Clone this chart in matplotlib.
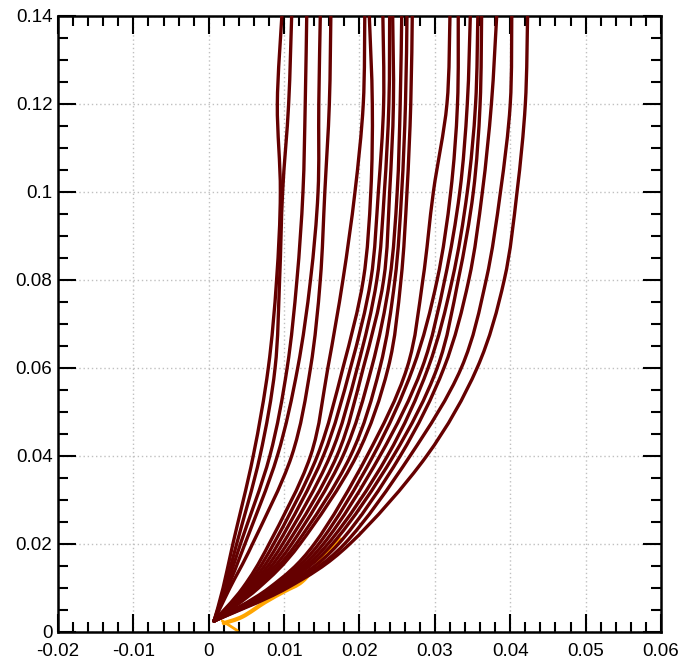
import matplotlib
matplotlib.use("Agg")
import matplotlib.pyplot as plt
from matplotlib.path import Path
from matplotlib.patches import PathPatch
from matplotlib.ticker import MultipleLocator, FuncFormatter

plt.rcParams['font.family'] = ['Liberation Sans', 'DejaVu Sans']

# y levels at which curve x-positions were read
y_levels = [0.0025, 0.01, 0.02, 0.04, 0.06, 0.08, 0.10, 0.12, 0.14]

# left group (steep curves)
left_curves = [
    [0.0007, 0.0019, 0.0032, 0.0059, 0.0079, 0.0090, 0.0095, 0.0091, 0.0097],
    [0.0007, 0.0021, 0.0037, 0.0068, 0.0088, 0.0094, 0.0098, 0.0106, 0.0110],
    [0.0007, 0.0023, 0.0042, 0.0081, 0.0104, 0.0117, 0.0125, 0.0128, 0.0130],
    [0.0007, 0.0025, 0.0048, 0.0091, 0.0118, 0.0135, 0.0145, 0.0146, 0.0148],
    [0.0007, 0.0028, 0.0058, 0.0110, 0.0135, 0.0148, 0.0154, 0.0160, 0.0162],
]

# middle group
middle_curves = [
    [0.0007, 0.0045, 0.0080, 0.0135, 0.0158, 0.0178, 0.0194, 0.0205, 0.0207],
    [0.0007, 0.0048, 0.0086, 0.0144, 0.0178, 0.0205, 0.0215, 0.0217, 0.0213],
    [0.0007, 0.0051, 0.0092, 0.0152, 0.0188, 0.0215, 0.0225, 0.0232, 0.0231],
    [0.0007, 0.0054, 0.0098, 0.0161, 0.0197, 0.0223, 0.0233, 0.0239, 0.0240],
    [0.0007, 0.0057, 0.0104, 0.0170, 0.0205, 0.0232, 0.0240, 0.0245, 0.0244],
    [0.0007, 0.0060, 0.0110, 0.0178, 0.0216, 0.0240, 0.0250, 0.0254, 0.0256],
    [0.0007, 0.0063, 0.0116, 0.0188, 0.0227, 0.0247, 0.0256, 0.0261, 0.0263],
    [0.0007, 0.0066, 0.0121, 0.0196, 0.0238, 0.0255, 0.0263, 0.0268, 0.0270],
]

# right group
right_curves = [
    [0.0007, 0.0080, 0.0140, 0.0210, 0.0263, 0.0284, 0.0298, 0.0316, 0.0320],
    [0.0007, 0.0083, 0.0146, 0.0218, 0.0271, 0.0303, 0.0321, 0.0330, 0.0331],
    [0.0007, 0.0086, 0.0152, 0.0227, 0.0283, 0.0313, 0.0333, 0.0343, 0.0347],
    [0.0007, 0.0089, 0.0158, 0.0237, 0.0291, 0.0323, 0.0343, 0.0354, 0.0357],
    [0.0007, 0.0092, 0.0164, 0.0245, 0.0303, 0.0331, 0.0351, 0.0360, 0.0362],
    [0.0007, 0.0096, 0.0172, 0.0254, 0.0312, 0.0345, 0.0363, 0.0375, 0.0382],
    [0.0007, 0.0100, 0.0180, 0.0267, 0.0335, 0.0368, 0.0387, 0.0400, 0.0402],
    [0.0007, 0.0104, 0.0187, 0.0289, 0.0356, 0.0392, 0.0409, 0.0420, 0.0423],
]

# orange segments (partly hidden beneath the dark curves)
orange_main_x = [0.0020, 0.0045, 0.0075, 0.0101, 0.0124, 0.0150, 0.0175]
orange_main_y = [0.0020, 0.0035, 0.0068, 0.0093, 0.0115, 0.0165, 0.0210]
orange_blob_x = [0.0062, 0.0090, 0.0110, 0.0124]
orange_blob_y = [0.0075, 0.0102, 0.0114, 0.0125]
orange_tail_x = [0.0018, 0.0030, 0.0038]
orange_tail_y = [0.0025, 0.0012, 0.0003]

dark = '#650000'
orange = '#ffa500'


def smooth_path(xs, ys):
    """Catmull-Rom style cubic path through the given points (rendering only)."""
    pts = list(zip(xs, ys))
    n = len(pts)
    verts = [pts[0]]
    codes = [Path.MOVETO]
    for i in range(n - 1):
        p0 = pts[i - 1] if i > 0 else pts[i]
        p1 = pts[i]
        p2 = pts[i + 1]
        p3 = pts[i + 2] if i + 2 < n else pts[i + 1]
        c1 = (p1[0] + (p2[0] - p0[0]) / 6.0, p1[1] + (p2[1] - p0[1]) / 6.0)
        c2 = (p2[0] - (p3[0] - p1[0]) / 6.0, p2[1] - (p3[1] - p1[1]) / 6.0)
        verts += [c1, c2, p2]
        codes += [Path.CURVE4, Path.CURVE4, Path.CURVE4]
    return Path(verts, codes)


fig = plt.figure(figsize=(6.83, 6.61), dpi=100)
ax = fig.add_axes([0.0849, 0.0439, 0.8829, 0.9319])

for xs, ys, lw in ((orange_main_x, orange_main_y, 3.0),
                   (orange_blob_x, orange_blob_y, 3.0),
                   (orange_tail_x, orange_tail_y, 2.0)):
    ax.add_patch(PathPatch(smooth_path(xs, ys), fill=False, edgecolor=orange,
                           lw=lw, zorder=2, capstyle='round', joinstyle='round'))

for group in (left_curves, middle_curves, right_curves):
    for xs in group:
        ax.add_patch(PathPatch(smooth_path(xs, y_levels), fill=False,
                               edgecolor=dark, lw=2.4, zorder=3,
                               capstyle='round', joinstyle='round'))

ax.set_xlim(-0.02, 0.06)
ax.set_ylim(0, 0.14)

ax.xaxis.set_major_locator(MultipleLocator(0.01))
ax.xaxis.set_minor_locator(MultipleLocator(0.002))
ax.yaxis.set_major_locator(MultipleLocator(0.02))
ax.yaxis.set_minor_locator(MultipleLocator(0.005))


def fmt(v, pos):
    if abs(v) < 1e-12:
        return '0'
    return f'{v:.3f}'.rstrip('0').rstrip('.')


ax.xaxis.set_major_formatter(FuncFormatter(fmt))
ax.yaxis.set_major_formatter(FuncFormatter(fmt))

ax.tick_params(which='both', direction='in', top=True, right=True,
               width=1.5, colors='black', labelsize=13.5)
ax.tick_params(which='major', length=13)
ax.tick_params(which='minor', length=7)
ax.tick_params(axis='x', which='major', pad=8)
ax.tick_params(axis='y', which='major', pad=4)

for sp in ax.spines.values():
    sp.set_linewidth(1.8)

ax.grid(True, which='major', linestyle=(0, (1, 2)), color='#c0c0c0', lw=1.0)
ax.set_axisbelow(True)

fig.canvas.draw()
# lift the "0" label on the y axis slightly, as in the reference
for lab in ax.get_yticklabels():
    if lab.get_text() == '0':
        lab.set_verticalalignment('center_baseline')

fig.savefig('out.png', dpi=100)
